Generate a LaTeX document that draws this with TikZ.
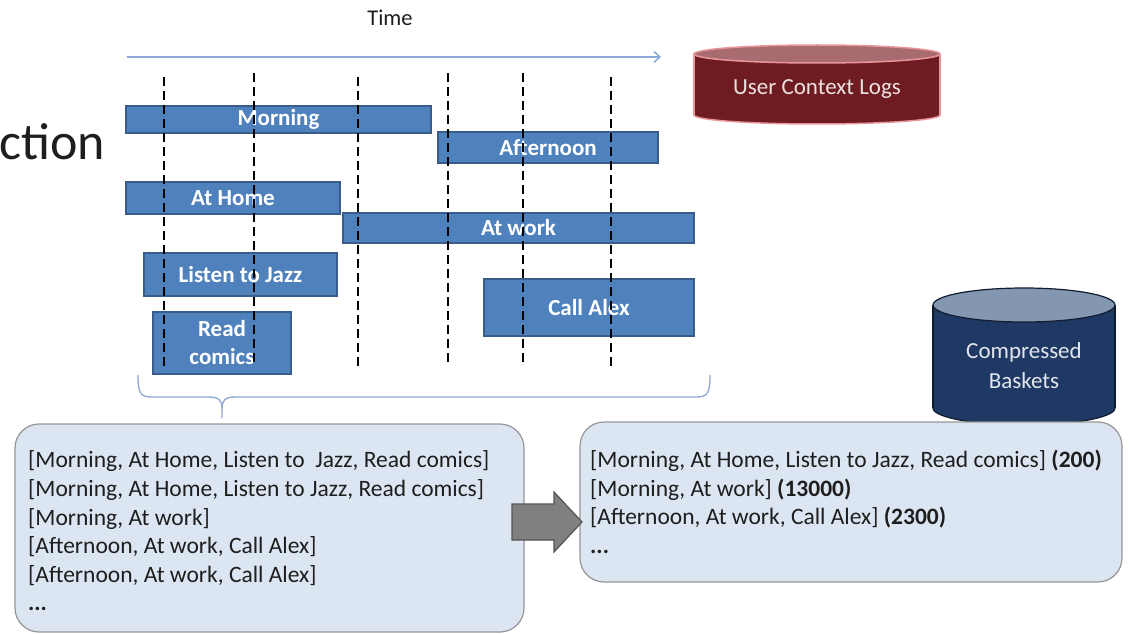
\documentclass[tikz,border=0pt]{standalone}
\usepackage{fontspec}
\setmainfont{Carlito}
\usetikzlibrary{arrows.meta}

\definecolor{barfill}{RGB}{79,129,189}
\definecolor{barline}{RGB}{56,93,138}
\definecolor{timeblue}{RGB}{140,168,214}
\definecolor{logbody}{RGB}{110,28,34}
\definecolor{logtop}{RGB}{168,108,112}
\definecolor{logedge}{RGB}{232,150,155}
\definecolor{logtext}{RGB}{236,226,226}
\definecolor{baskbody}{RGB}{31,56,100}
\definecolor{basktop}{RGB}{132,151,176}
\definecolor{baskedge}{RGB}{18,28,48}
\definecolor{basktext}{RGB}{226,230,236}
\definecolor{listfill}{RGB}{220,230,242}
\definecolor{listedge}{RGB}{150,150,150}
\definecolor{arrowfill}{RGB}{128,128,128}
\definecolor{arrowedge}{RGB}{85,85,85}
\definecolor{inktext}{RGB}{30,30,30}

\begin{document}
\begin{tikzpicture}[x=1pt,y=-1pt,
  bar/.style={draw=barline, line width=1.2pt, fill=barfill, inner sep=0pt,
    text=white, align=center, font=\fontsize{23}{28}\selectfont\bfseries},
  slice/.style={draw=black, line width=2.8pt, dash pattern=on 9pt off 5pt},
  listbox/.style={draw=listedge, line width=1.2pt, fill=listfill, rounded corners=24pt, inner sep=0pt},
  listtext/.style={text=inktext, font=\fontsize{23.5}{28.6}\selectfont, align=left, anchor=west, inner sep=0pt},
  timeline/.style={draw=timeblue, line width=1.5pt},
  blockarrow/.style={draw=arrowedge, line width=1.2pt, fill=arrowfill, line join=miter}
]
\useasboundingbox (0,0) rectangle (1128,634);

% slide title fragment
\node[anchor=base west, inner sep=0pt, font=\fontsize{52}{58}\selectfont, text=inktext] (title) at (-1,159) {ction};

% time axis
\node[inner sep=0pt, font=\fontsize{22.5}{26}\selectfont, text=inktext] (timelabel) at (390,18) {Time};
\coordinate (t0) at (127,57);
\coordinate (t1) at (661,57);
\draw[timeline, -{Straight Barb[length=6pt,width=11pt]}] (t0) -- (t1);

% context intervals
\node[bar, minimum width=305pt, minimum height=27pt] (morning) at (278.5,119.5) {Morning};
\node[bar, minimum width=220pt, minimum height=31pt] (afternoon) at (548,147.5) {Afternoon};
\node[bar, minimum width=214pt, minimum height=32pt] (home) at (233,198) {At Home};
\node[bar, minimum width=351pt, minimum height=30pt] (work) at (518.5,228) {At work};
\node[bar, minimum width=193pt, minimum height=43pt] (jazz) at (240.5,274.5) {Listen to Jazz};
\node[bar, minimum width=210pt, minimum height=57pt] (alex) at (589,307.5) {Call Alex};
\node[bar, minimum width=138pt, minimum height=62pt] (comics) at (222,343) {Read\\comics};

% snapshot instants
\draw[slice] (164,77) -- (164,368);
\draw[slice] (254,73) -- (254,366);
\draw[slice] (358,77) -- (358,368);
\draw[slice] (448,73) -- (448,365);
\draw[slice] (523,73) -- (523,365);
\draw[slice] (611,77) -- (611,368);

% log store
\filldraw[fill=logbody, draw=logedge, line width=1.5pt] (817,115) ellipse [x radius=123, y radius=9];
\fill[logbody] (694,54) rectangle (940,115);
\draw[logedge, line width=1.5pt] (694,54) -- (694,115) (940,54) -- (940,115);
\filldraw[fill=logtop, draw=logedge, line width=1.5pt] (817,54) ellipse [x radius=123, y radius=9];
\node[inner sep=0pt, text=logtext, font=\fontsize{23}{28}\selectfont] (logs) at (817,89) {User Context Logs};

% basket store
\filldraw[fill=baskbody, draw=baskedge, line width=1.2pt] (1024,408) ellipse [x radius=91, y radius=17];
\fill[baskbody] (933,305) rectangle (1115,408);
\draw[baskedge, line width=1.2pt] (933,305) -- (933,408) (1115,305) -- (1115,408);
\filldraw[fill=basktop, draw=baskedge, line width=1.2pt] (1024,305) ellipse [x radius=91, y radius=17];
\node[inner sep=0pt, text=basktext, align=center, font=\fontsize{23}{30}\selectfont] (baskets) at (1024,366) {Compressed\\Baskets};

% basket lists
\node[listbox, minimum width=509pt, minimum height=208pt] (rawbox) at (269.5,528) {};
\node[listtext] (rawlist) at (28,531) {{[}Morning, At Home, Listen to\ \ Jazz, Read comics{]}\\
{[}Morning, At Home, Listen to Jazz, Read comics{]}\\
{[}Morning, At work{]}\\
{[}Afternoon, At work, Call Alex{]}\\
{[}Afternoon, At work, Call Alex{]}\\
\textbf{...}};

\node[listbox, minimum width=542pt, minimum height=160pt] (packbox) at (851,502) {};
\node[listtext] (packlist) at (590,502) {{[}Morning, At Home, Listen to Jazz, Read comics{]} \textbf{(200)}\\
{[}Morning, At work{]} \textbf{(13000)}\\
{[}Afternoon, At work, Call Alex{]} \textbf{(2300)}\\
\textbf{...}};

% brace gathering the snapshots
\coordinate (bl) at (138,375);
\coordinate (br) at (710,375);
\coordinate (bm) at (222,409);
\coordinate (bt) at (222,418);
\draw[timeline, line width=1.3pt] (bl) .. controls (138,393) and (140,397) .. (152,397) -- (208,397)
  .. controls (219,397) and (222,400) .. (bm) -- (bt);
\draw[timeline, line width=1.3pt] (bm) .. controls (222,400) and (225,397) .. (236,397) -- (696,397)
  .. controls (708,397) and (710,393) .. (br);

% compression step
\draw[blockarrow] (512,504) -- (554,504) -- (554,492) -- (582,522) -- (554,552) -- (554,540) -- (512,540) -- cycle;
\end{tikzpicture}
\end{document}
